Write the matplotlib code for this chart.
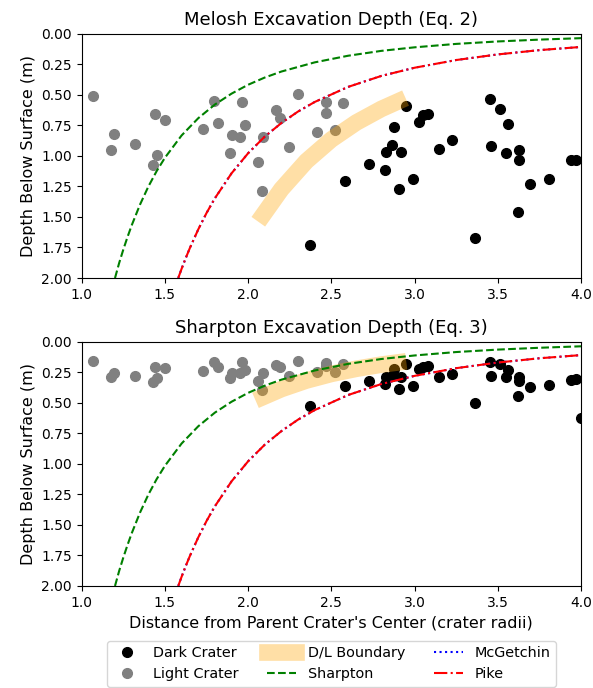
import matplotlib
matplotlib.use("Agg")
import matplotlib.pyplot as plt

# light (bright-ejecta) craters: distance, depth from Eq. 2, depth from Eq. 3
light_x = [1.066, 1.194, 1.176, 1.320, 1.440, 1.500, 1.454, 1.428, 1.730, 1.796,
           1.820, 1.900, 1.950, 1.890, 1.966, 1.980, 2.058, 2.083, 2.090, 2.166,
           2.190, 2.245, 2.300, 2.413, 2.465, 2.465, 2.570, 2.520]
light_melosh = [0.511, 0.822, 0.953, 0.906, 0.661, 0.707, 0.993, 1.078, 0.783, 0.549,
                0.734, 0.830, 0.844, 0.980, 0.560, 0.748, 1.053, 1.288, 0.844, 0.626,
                0.694, 0.925, 0.497, 0.803, 0.562, 0.653, 0.571, 0.790]
light_sharpton = [0.158, 0.254, 0.286, 0.278, 0.204, 0.218, 0.300, 0.327, 0.240, 0.169,
                  0.206, 0.256, 0.258, 0.296, 0.170, 0.230, 0.318, 0.395, 0.256, 0.190,
                  0.210, 0.278, 0.155, 0.245, 0.172, 0.200, 0.180, 0.245]

# dark craters
dark_x = [2.950, 2.875, 2.865, 2.830, 2.920, 2.725, 2.825, 2.993, 2.580, 2.905,
          2.371, 3.025, 3.050, 3.080, 3.453, 3.512, 3.560, 3.226, 3.145, 3.461,
          3.550, 3.625, 3.625, 3.940, 3.970, 3.695, 3.810, 3.623, 3.363, 4.000]
dark_melosh = [0.590, 0.762, 0.912, 0.966, 0.966, 1.067, 1.116, 1.190, 1.210, 1.275,
               1.729, 0.725, 0.670, 0.655, 0.538, 0.615, 0.742, 0.871, 0.944, 0.920,
               0.980, 0.953, 1.034, 1.034, 1.034, 1.230, 1.190, 1.462, 1.670, 2.060]
dark_sharpton = [0.182, 0.226, 0.280, 0.290, 0.290, 0.319, 0.346, 0.363, 0.363, 0.390,
                 0.524, 0.221, 0.204, 0.199, 0.168, 0.180, 0.232, 0.267, 0.291, 0.278,
                 0.293, 0.288, 0.322, 0.313, 0.308, 0.370, 0.355, 0.442, 0.502, 0.627]

# dark/light boundary band
band_x = [2.09, 2.20, 2.35, 2.50, 2.65, 2.80, 2.90]
band_melosh = [1.484, 1.273, 1.044, 0.867, 0.728, 0.617, 0.556]
band_sharpton = [0.453, 0.388, 0.318, 0.264, 0.222, 0.188, 0.170]

# model curves
sharpton_x = [1.20, 1.225, 1.25, 1.275, 1.30, 1.35, 1.40, 1.45, 1.50, 1.60, 1.70, 1.80,
              1.90, 2.00, 2.10, 2.20, 2.40, 2.60, 2.80, 3.00, 3.25, 3.50, 3.75, 4.00]
sharpton_depth = [2.000, 1.877, 1.767, 1.665, 1.570, 1.400, 1.253, 1.126, 1.016, 0.834,
                  0.693, 0.581, 0.492, 0.419, 0.360, 0.311, 0.236, 0.182, 0.142, 0.113,
                  0.085, 0.065, 0.050, 0.038]
pike_x = [1.58, 1.60, 1.625, 1.65, 1.70, 1.75, 1.80, 1.90, 2.00, 2.10, 2.20, 2.30,
          2.40, 2.60, 2.80, 3.00, 3.25, 3.50, 3.75, 4.00]
pike_depth = [2.000, 1.925, 1.837, 1.754, 1.603, 1.468, 1.348, 1.144, 0.979, 0.843,
              0.732, 0.638, 0.560, 0.437, 0.347, 0.280, 0.217, 0.171, 0.136, 0.110]
mcgetchin_depth = [2.000, 1.925, 1.837, 1.754, 1.603, 1.468, 1.348, 1.144, 0.979, 0.843,
                   0.732, 0.638, 0.560, 0.437, 0.347, 0.280, 0.217, 0.171, 0.136, 0.110]

fig = plt.figure(figsize=(5.93, 6.88), dpi=100)
ax1 = fig.add_axes([0.1378, 0.5959, 0.8420, 0.3554])
ax2 = fig.add_axes([0.1378, 0.1483, 0.8420, 0.3551])

panels = [(ax1, dark_melosh, light_melosh, band_melosh, "Melosh Excavation Depth (Eq. 2)"),
          (ax2, dark_sharpton, light_sharpton, band_sharpton, "Sharpton Excavation Depth (Eq. 3)")]

for ax, dark_y, light_y, band_y, title in panels:
    ax.plot(dark_x, dark_y, 'o', color='black', ms=7, label='Dark Crater')
    ax.plot(light_x, light_y, 'o', color='gray', ms=7, label='Light Crater')
    ax.plot(band_x, band_y, '-', color='orange', alpha=0.35, lw=12, label='D/L Boundary')
    ax.plot(sharpton_x, sharpton_depth, 'g--', label='Sharpton')
    ax.plot(pike_x, mcgetchin_depth, 'b:', label='McGetchin')
    ax.plot(pike_x, pike_depth, 'r-.', label='Pike')
    ax.set_xlim(1.0, 4.0)
    ax.set_ylim(2.0, 0.0)
    ax.set_title(title, fontsize=13)
    ax.set_ylabel("Depth Below Surface (m)", fontsize=11.5)

ax2.set_xlabel("Distance from Parent Crater's Center (crater radii)", fontsize=11.5)

handles, labels = ax1.get_legend_handles_labels()
fig.legend(handles, labels, loc='upper center', ncol=3, fontsize=10.4,
           borderpad=0.35, bbox_to_anchor=(0.559, 0.0785))

fig.savefig("out.png", dpi=100)
